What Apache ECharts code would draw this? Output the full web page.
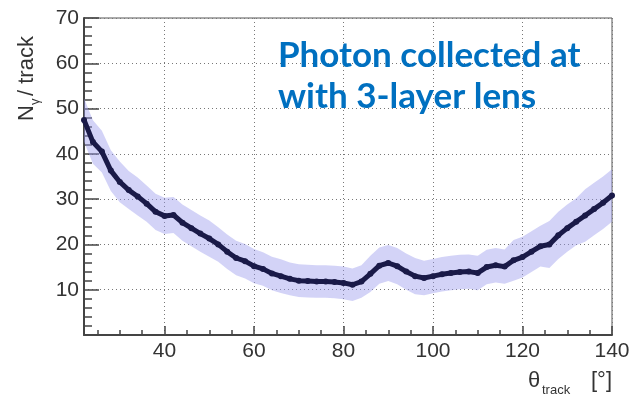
<!DOCTYPE html>
<html>
<head>
<meta charset="utf-8">
<script src="https://cdn.jsdelivr.net/npm/echarts@6/dist/echarts.min.js"></script>
<style>
  html, body { margin: 0; padding: 0; background: #fff; }
  #chart { width: 634px; height: 395px; }
</style>
</head>
<body>
<div id="chart"></div>
<script>
// Track polar angle (degrees)
const theta = [22, 24, 26, 28, 30, 32, 34, 36, 38, 40,
               42, 44, 46, 48, 50, 52, 54, 56, 58, 60,
               62, 64, 66, 68, 70, 72, 74, 76, 78, 80,
               82, 84, 86, 88, 90, 92, 94, 96, 98, 100,
               102, 104, 106, 108, 110, 112, 114, 116, 118, 120,
               122, 124, 126, 128, 130, 132, 134, 136, 138, 140];
// Mean number of detected photons per track
const nPhotons = [47.5, 42.6, 40.5, 36.3, 33.8, 32.0, 30.6, 29.0, 27.2, 26.3,
                  26.5, 24.8, 23.6, 22.4, 21.3, 20.0, 18.4, 17.0, 16.3, 15.2,
                  14.6, 13.6, 13.0, 12.4, 12.0, 11.9, 11.8, 11.8, 11.7, 11.5,
                  11.1, 11.8, 13.5, 15.3, 15.9, 15.2, 14.0, 13.0, 12.6, 13.0,
                  13.4, 13.7, 13.9, 14.0, 13.7, 15.0, 15.4, 15.1, 16.5, 17.2,
                  18.4, 19.6, 20.0, 22.0, 23.6, 25.0, 26.4, 27.8, 29.2, 30.8];
// Spread (RMS) of the photon count
const spread = [4.8, 4.8, 4.6, 4.5, 4.5, 4.2, 4.2, 4.0, 4.0, 4.0,
                4.0, 4.0, 4.0, 4.0, 4.0, 3.8, 3.8, 3.8, 3.8, 3.8,
                3.7, 3.7, 3.7, 3.6, 3.6, 3.6, 3.6, 3.6, 3.6, 3.6,
                3.6, 3.6, 4.0, 4.0, 4.0, 4.0, 4.0, 4.0, 3.8, 3.8,
                3.8, 3.8, 3.8, 3.8, 3.8, 3.8, 3.8, 3.8, 4.5, 4.5,
                4.5, 4.5, 5.2, 5.2, 5.2, 5.2, 5.8, 5.8, 5.8, 5.8];

const xMajorTicks = [40, 60, 80, 100, 120, 140];
const xMinorTicks = [25, 30, 35, 45, 50, 55, 65, 70, 75, 85, 90, 95,
                     105, 110, 115, 125, 130, 135];
const titleLines = ['Photon collected at', 'with 3-layer lens'];

const meanLine = theta.map((t, i) => [t, nPhotons[i]]);

const axisFont = { fontFamily: 'Liberation Sans', fontSize: 21, color: '#333' };
const gridDots = { color: '#777', type: [1, 3], width: 1 };

// Spread band: one polygon, upper edge left->right then lower edge right->left
function renderBand(params, api) {
  const upper = theta.map((t, i) => api.coord([t, nPhotons[i] + spread[i]]));
  const lower = theta.map((t, i) => api.coord([t, nPhotons[i] - spread[i]])).reverse();
  return {
    type: 'polygon',
    shape: { points: upper.concat(lower) },
    style: { fill: 'rgba(150,150,235,0.42)' },
    silent: true
  };
}

const chart = echarts.init(document.getElementById('chart'), null, { renderer: 'canvas' });
chart.setOption({
  animation: false,
  backgroundColor: '#fff',
  grid: {
    left: 84, right: 22, top: 18, bottom: 60,
    show: true, borderColor: '#555', borderWidth: 1, backgroundColor: 'transparent'
  },
  xAxis: [{
    type: 'value', min: 22, max: 140, position: 'bottom',
    axisLine: { show: true, lineStyle: { color: '#444', width: 2 } },
    axisTick: { show: true, inside: true, length: 9, customValues: xMajorTicks,
                lineStyle: { color: '#444', width: 1.5 } },
    axisLabel: { show: true, customValues: xMajorTicks, margin: 6, ...axisFont },
    splitLine: { show: true, lineStyle: gridDots }
  }, {
    type: 'value', min: 22, max: 140, position: 'bottom', gridIndex: 0,
    axisLine: { show: false },
    axisTick: { show: true, inside: true, length: 5, customValues: xMinorTicks,
                lineStyle: { color: '#444', width: 1.5 } },
    axisLabel: { show: false },
    splitLine: { show: false }
  }],
  yAxis: {
    type: 'value', min: 0, max: 70, interval: 10,
    axisLine: { show: true, lineStyle: { color: '#444', width: 2 } },
    axisTick: { show: true, inside: true, length: 15, lineStyle: { color: '#444', width: 1.5 } },
    minorTick: { show: true, splitNumber: 5, length: 8, lineStyle: { color: '#444', width: 1.5 } },
    axisLabel: { show: true, showMinLabel: false, margin: 5, ...axisFont },
    splitLine: { show: true, lineStyle: gridDots }
  },
  series: [{
    type: 'custom', name: 'spread', data: [[theta[0], nPhotons[0]]],
    renderItem: renderBand, clip: true, silent: true, z: 2
  }, {
    type: 'line', name: 'mean', data: meanLine,
    symbol: 'circle', symbolSize: 6, showSymbol: true,
    itemStyle: { color: '#1a1a48' },
    lineStyle: { color: '#1a1a48', width: 5 }, z: 5
  }],
  graphic: [
    {
      type: 'text', x: 278, y: 56,
      style: { text: titleLines[0], fill: '#0070C0', font: 'bold 35px Lato',
               textAlign: 'left', textVerticalAlign: 'middle' }, z: 10
    },
    {
      type: 'text', x: 278, y: 97,
      style: { text: titleLines[1], fill: '#0070C0', font: 'bold 35px Lato',
               textAlign: 'left', textVerticalAlign: 'middle' }, z: 10
    },
    {
      type: 'group', x: 38, y: 121, rotation: Math.PI / 2,
      children: [
        { type: 'text', x: 0, y: 0,
          style: { text: 'N', fill: '#333', font: '22px Liberation Sans',
                   textAlign: 'left', textVerticalAlign: 'bottom' } },
        { type: 'text', x: 16, y: 4,
          style: { text: 'γ', fill: '#333', font: '13px Liberation Sans',
                   textAlign: 'left', textVerticalAlign: 'bottom' } },
        { type: 'text', x: 25, y: 0,
          style: { text: '/ track', fill: '#333', font: '22px Liberation Sans',
                   textAlign: 'left', textVerticalAlign: 'bottom' } }
      ]
    },
    { type: 'text', x: 528, y: 392,
      style: { text: 'θ', fill: '#333', font: '22px Liberation Sans',
               textAlign: 'left', textVerticalAlign: 'bottom' } },
    { type: 'text', x: 542, y: 397,
      style: { text: 'track', fill: '#333', font: '13px Liberation Sans',
               textAlign: 'left', textVerticalAlign: 'bottom' } },
    { type: 'text', x: 612, y: 392,
      style: { text: '[°]', fill: '#333', font: '22px Liberation Sans',
               textAlign: 'right', textVerticalAlign: 'bottom' } }
  ]
});
</script>
</body>
</html>
